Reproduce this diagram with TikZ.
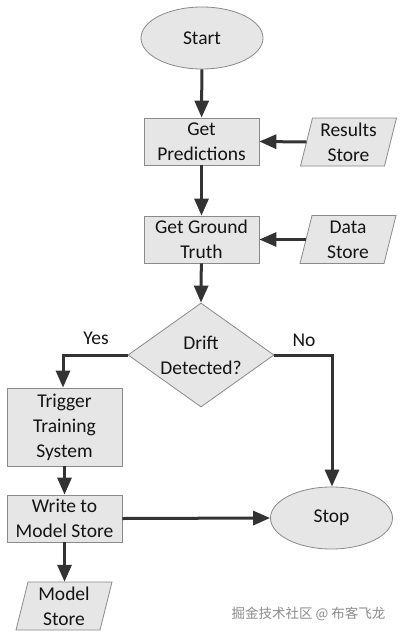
\documentclass[tikz,border=0pt]{standalone}
\usepackage{fontspec}
\setmainfont{Carlito}
\newfontfamily\cjk{Noto Sans CJK SC}
\usetikzlibrary{shapes.geometric,arrows.meta}
\definecolor{fillg}{HTML}{E6E6E6}
\definecolor{edgeg}{HTML}{8A8A8A}
\definecolor{linec}{HTML}{333333}
\definecolor{txt}{HTML}{141414}
\begin{document}
\begin{tikzpicture}[x=1pt,y=-1pt,
  every node/.style={text=txt},
  mainfont/.style={font=\fontsize{19.5}{25}\selectfont},
  box/.style={mainfont, draw=edgeg, fill=fillg, line width=0.8pt, minimum width=115pt, minimum height=47pt, inner sep=0pt, align=center},
  term/.style={mainfont, ellipse, draw=edgeg, fill=fillg, line width=0.8pt, minimum width=122pt, minimum height=62pt, inner sep=0pt},
  dec/.style={mainfont, diamond, draw=edgeg, fill=fillg, line width=0.8pt, aspect=1.4, minimum width=146pt, minimum height=104pt, inner sep=0pt, align=center},
  storetext/.style={mainfont, minimum width=96pt, minimum height=48pt, inner sep=0pt, align=center},
  storeshape/.style={draw=edgeg, fill=fillg, line width=0.8pt},
  flow/.style={draw=linec, line width=3pt, -{Triangle[width=14pt,length=17pt]}},
  lbl/.style={mainfont}
]
\useasboundingbox (0,0) rectangle (402,635);
\fill[white] (0,0) rectangle (402,635);

% store shapes (parallelograms) drawn behind their text nodes
\newcommand{\storebox}[4]{% center x, center y, name, text
  \draw[storeshape] (#1-48+12,#2-24) -- (#1+48,#2-24) -- (#1+48-12,#2+24) -- (#1-48,#2+24) -- cycle;
  \node[storetext] (#3) at (#1,#2) {#4};
}

\node[term] (start) at (202,38) {Start};
\node[box] (gp) at (201.5,141.5) {Get\\Predictions};
\storebox{348.5}{142}{rs}{Results\\Store}
\node[box] (ggt) at (201.5,239.5) {Get Ground\\Truth};
\storebox{348}{239.5}{ds}{Data\\Store}
\node[dec] (dd) at (201,355) {Drift\\Detected?};
\node[box, minimum height=78pt] (tts) at (64.5,427) {Trigger\\Training\\System};
\node[box] (wms) at (64.5,518.5) {Write to\\Model Store};
\node[term] (stop) at (331.5,518) {Stop};
\storebox{64}{606}{ms}{Model\\Store}

\node[lbl] (yes) at (96,338) {Yes};
\node[lbl] (no) at (304,340) {No};

\coordinate (yescorner) at (63,355);
\coordinate (nocorner) at (332,355);

\draw[flow] (start) -- (gp);
\draw[flow] ([xshift=6pt]rs.west) -- (gp.east);
\draw[flow] (gp) -- (ggt);
\draw[flow] ([xshift=6pt]ds.west) -- (ggt.east);
\draw[flow] (ggt) -- (dd.north);
\draw[flow] (dd.west) -- (yescorner) -- (yescorner |- tts.north);
\draw[flow] (dd.east) -- (nocorner) -- (nocorner |- stop.north);
\draw[flow] (tts) -- (wms);
\draw[flow] (wms.east) -- (stop.west);
\draw[flow] (wms.south) -- (wms.south |- ms.north);

\node[font=\cjk\fontsize{13.5}{16}\selectfont, text=black!45, anchor=east] (wm) at (389,614) {掘金技术社区 @ 布客飞龙};
\end{tikzpicture}
\end{document}
